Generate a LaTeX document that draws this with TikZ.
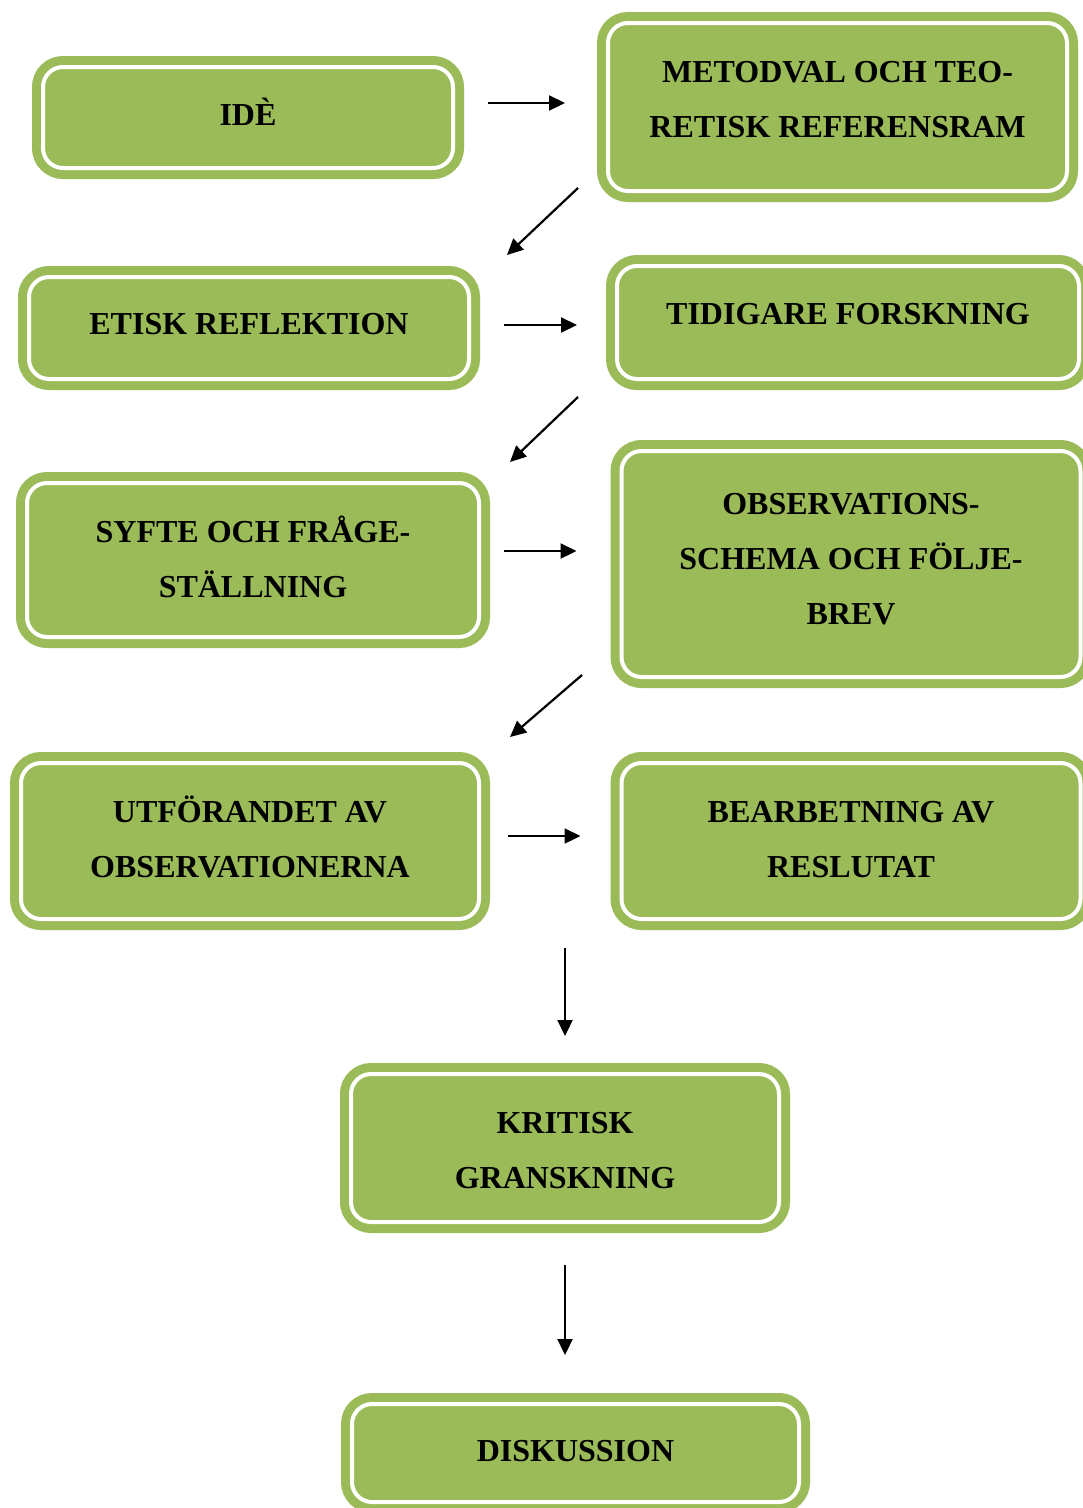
\documentclass[tikz,border=0pt]{standalone}
\usepackage{fontspec}
\setmainfont{Liberation Serif}
\usepackage{xcolor}
\usetikzlibrary{arrows.meta}
\definecolor{boxgreen}{HTML}{9BBB59}

\begin{document}
\begin{tikzpicture}[
    x=1pt, y=-1pt,
    captop/.store in=\captop, captop=40,
    stage/.style={rectangle, rounded corners=20pt, fill=boxgreen, draw=boxgreen, line width=9pt, double=white, double distance=4pt, align=center, inner sep=0pt, outer sep=0pt, font=\fontsize{32}{55}\selectfont\bfseries, execute at begin node={\rule{0pt}{\captop pt}}},
    drop/.style={execute at end node={\rule[-#1pt]{0pt}{#1pt}}},
    arrow/.style={-{Triangle[length=16pt,width=15pt]}, line width=2.2pt}
]

% Page
\path[use as bounding box, fill=white] (0,0) rectangle (1083,1508);

% Stages, left column
\node[stage, minimum width=410pt, minimum height=101pt, drop=23.8] (ide) at (248,117.5) {IDÈ};
\node[stage, minimum width=440pt, minimum height=102pt, drop=26.8] (etisk) at (249,328) {ETISK REFLEKTION};
\node[stage, captop=100, minimum width=452pt, minimum height=154pt, drop=25] (syfte) at (253,560) {SYFTE OCH FRÅGE-\\STÄLLNING};
\node[stage, captop=100, minimum width=458pt, minimum height=156pt, drop=27] (utforande) at (250,841) {UTFÖRANDET AV\\OBSERVATIONERNA};

% Stages, right column
\node[stage, captop=100, minimum width=459pt, minimum height=168pt, drop=39] (metodval) at (837.5,107) {METODVAL OCH TEO-\\RETISK REFERENSRAM};
\node[stage, minimum width=462pt, minimum height=113pt, drop=35.8] (tidigare) at (848,322.5) {TIDIGARE FORSKNING};
\node[stage, captop=155, minimum width=459pt, minimum height=226pt, drop=34] (schema) at (851,564) {OBSERVATIONS-\\SCHEMA OCH FÖLJE-\\BREV};
\node[stage, captop=100, minimum width=459pt, minimum height=156pt, drop=27] (bearbetning) at (851,841) {BEARBETNING AV\\RESLUTAT};

% Final stages
\node[stage, captop=100, minimum width=428pt, minimum height=148pt, drop=19] (granskning) at (565,1148) {KRITISK\\GRANSKNING};
\node[stage, minimum width=447pt, minimum height=98pt, drop=22.8] (diskussion) at (575.5,1453) {DISKUSSION};

% Flow
\draw[arrow] ([shift={(35,-14.5)}]ide.east) -- ([shift={(-43,-4)}]metodval.west);
\draw[arrow] ([shift={(-30,-3)}]metodval.south west) -- ([shift={(38,-22)}]etisk.north east);
\draw[arrow] ([shift={(35,-3)}]etisk.east) -- ([shift={(-40,2.5)}]tidigare.west);
\draw[arrow] ([shift={(-39,18)}]tidigare.south west) -- ([shift={(31,-21)}]syfte.north east);
\draw[arrow] ([shift={(25,-9)}]syfte.east) -- ([shift={(-45,-13)}]schema.west);
\draw[arrow] ([shift={(-39.5,-2)}]schema.south west) -- ([shift={(31,-26)}]utforande.north east);
\draw[arrow] ([shift={(29,-5)}]utforande.east) -- ([shift={(-41,-5)}]bearbetning.west);
\draw[arrow] ([shift={(-56.5,29)}]bearbetning.south west) -- ([shift={(0,-38)}]granskning.north);
\draw[arrow] ([shift={(0,43)}]granskning.south) -- ([shift={(-10.5,-49)}]diskussion.north);

\end{tikzpicture}
\end{document}
